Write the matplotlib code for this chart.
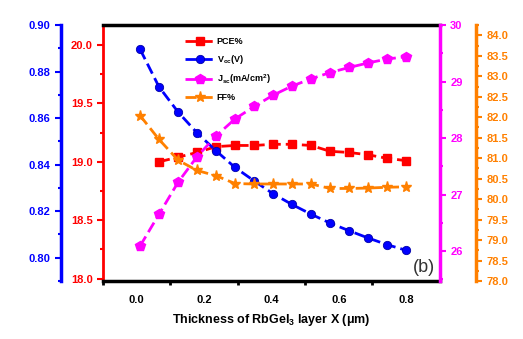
import matplotlib
matplotlib.use("Agg")
import matplotlib.pyplot as plt
from matplotlib.ticker import MultipleLocator, FixedLocator

plt.rcParams['font.family'] = ['Liberation Sans', 'DejaVu Sans']
plt.rcParams['font.weight'] = 'bold'
plt.rcParams['mathtext.fontset'] = 'custom'
plt.rcParams['mathtext.rm'] = 'Liberation Sans'
plt.rcParams['mathtext.bf'] = 'Liberation Sans:bold'
plt.rcParams['mathtext.default'] = 'bf'

# thickness of RbGeI3 layer (um)
thickness = [0.01, 0.066, 0.123, 0.179, 0.236, 0.292, 0.349, 0.405,
             0.461, 0.518, 0.574, 0.631, 0.687, 0.744, 0.8]
voc = [0.8896, 0.8735, 0.8626, 0.8537, 0.8459, 0.8388, 0.8330, 0.8275,
       0.8229, 0.8187, 0.8149, 0.8116, 0.8085, 0.8056, 0.8032]
# PCE starts at the second thickness
pce = [19.00, 19.04, 19.08, 19.13, 19.14, 19.14, 19.15, 19.15,
       19.14, 19.09, 19.08, 19.06, 19.03, 19.01]
jsc = [26.09, 26.65, 27.22, 27.67, 28.04, 28.34, 28.56, 28.76,
       28.92, 29.05, 29.16, 29.25, 29.33, 29.40, 29.44]
ff = [82.04, 81.46, 80.95, 80.70, 80.57, 80.38, 80.37, 80.37,
      80.37, 80.37, 80.26, 80.26, 80.27, 80.29, 80.30]

x_labels = ['0.0', '0.2', '0.4', '0.6', '0.8']

c_red = '#FF0000'
c_blue = '#0000FF'
c_mag = '#FF00FF'
c_orange = '#FF8000'

fig = plt.figure(figsize=(5.23, 3.39), dpi=100)
ax = fig.add_axes([0.197, 0.171, 0.644, 0.755])

ax_voc = ax.twinx()
ax_jsc = ax.twinx()
ax_ff = ax.twinx()

lw = 2.0
ms = 6
dash = (0, (4, 1.8))

l_pce, = ax.plot(thickness[1:], pce, color=c_red, ls=dash, lw=lw,
                 marker='s', ms=ms, label='PCE%')
l_voc, = ax_voc.plot(thickness, voc, color=c_blue, ls=dash, lw=lw,
                     marker='o', ms=ms, mec='#0000AA', mew=0.6, label='V$_{oc}$(V)')
l_jsc, = ax_jsc.plot(thickness, jsc, color=c_mag, ls=dash, lw=lw,
                     marker='p', ms=ms + 1, label='J$_{sc}$(mA/cm$^2$)')
l_ff, = ax_ff.plot(thickness, ff, color=c_orange, ls=dash, lw=lw,
                   marker='*', ms=ms + 2, label='FF%')

# x axis
ax.set_xlim(-0.1, 0.9)
ax.xaxis.set_major_locator(FixedLocator([-0.1, 0.1, 0.3, 0.5, 0.7]))
ax.xaxis.set_major_formatter(plt.NullFormatter())
ax.xaxis.set_minor_locator(FixedLocator([0.0, 0.2, 0.4, 0.6, 0.8]))
ax.set_xticklabels(x_labels, minor=True)
ax.tick_params(axis='x', which='major', direction='out', length=3, width=2)
ax.tick_params(axis='x', which='minor', length=0, pad=10, labelsize=8)
ax.set_xlabel('Thickness of RbGeI$_3$ layer X (μm)', fontsize=9,
              fontweight='bold', labelpad=5)

# PCE (red, left)
ax.set_ylim(17.98, 20.17)
ax.yaxis.set_major_locator(MultipleLocator(0.5))
ax.yaxis.set_minor_locator(MultipleLocator(0.25))
ax.tick_params(axis='y', which='both', colors=c_red, direction='out',
               width=1.5, labelsize=8)
ax.tick_params(axis='y', which='major', length=4)
ax.tick_params(axis='y', which='minor', length=2.5)
ax.yaxis.set_major_formatter(plt.FormatStrFormatter('%.1f'))

# Voc (blue, outer left)
ax_voc.set_ylim(0.79, 0.90)
ax_voc.yaxis.set_ticks_position('left')
ax_voc.yaxis.set_label_position('left')
ax_voc.spines['left'].set_visible(True)
ax_voc.spines['left'].set_position(('axes', -0.125))
ax_voc.yaxis.set_major_locator(MultipleLocator(0.02))
ax_voc.yaxis.set_minor_locator(MultipleLocator(0.01))
ax_voc.yaxis.set_major_formatter(plt.FormatStrFormatter('%.2f'))
ax_voc.tick_params(axis='y', which='both', colors=c_blue, direction='out',
                   width=1.5, labelsize=8)
ax_voc.tick_params(axis='y', which='major', length=4)
ax_voc.tick_params(axis='y', which='minor', length=2.5)

# Jsc (magenta, right)
ax_jsc.set_ylim(25.47, 30)
ax_jsc.yaxis.set_major_locator(MultipleLocator(1))
ax_jsc.yaxis.set_minor_locator(MultipleLocator(0.5))
ax_jsc.tick_params(axis='y', which='both', colors=c_mag, direction='out',
                   width=1.5, labelsize=8)
ax_jsc.tick_params(axis='y', which='major', length=4)
ax_jsc.tick_params(axis='y', which='minor', length=2.5)

# FF (orange, outer right)
ax_ff.set_ylim(78.0, 84.25)
ax_ff.spines['right'].set_position(('axes', 1.107))
ax_ff.yaxis.set_major_locator(MultipleLocator(0.5))
ax_ff.yaxis.set_minor_locator(MultipleLocator(0.25))
ax_ff.yaxis.set_major_formatter(plt.FormatStrFormatter('%.1f'))
ax_ff.tick_params(axis='y', which='both', colors=c_orange, direction='out',
                  width=1.5, labelsize=8)
ax_ff.tick_params(axis='y', which='major', length=4)
ax_ff.tick_params(axis='y', which='minor', length=2.5)

# spines
for a in (ax, ax_voc, ax_jsc, ax_ff):
    for s in a.spines.values():
        s.set_visible(False)
ax.spines['left'].set_visible(True)
ax.spines['left'].set_color(c_red)
ax.spines['left'].set_linewidth(2)
ax.spines['bottom'].set_visible(True)
ax.spines['bottom'].set_linewidth(2.5)
ax.spines['top'].set_visible(True)
ax.spines['top'].set_linewidth(2.5)
ax_voc.spines['left'].set_visible(True)
ax_voc.spines['left'].set_color(c_blue)
ax_voc.spines['left'].set_linewidth(2.5)
ax_jsc.spines['right'].set_visible(True)
ax_jsc.spines['right'].set_color(c_mag)
ax_jsc.spines['right'].set_linewidth(2.5)
ax_ff.spines['right'].set_visible(True)
ax_ff.spines['right'].set_color(c_orange)
ax_ff.spines['right'].set_linewidth(2.5)

for a in (ax, ax_voc, ax_jsc, ax_ff):
    for t in a.get_yticklabels():
        t.set_fontweight('bold')

leg = ax_ff.legend(handles=[l_pce, l_voc, l_jsc, l_ff], loc='upper left',
                   bbox_to_anchor=(0.22, 0.985), frameon=False,
                   handlelength=3.2, labelspacing=0.75, handletextpad=0.3,
                   prop={'weight': 'bold', 'size': 6.5})

ax_ff.text(0.985, 0.02, '(b)', transform=ax.transAxes, ha='right', va='bottom',
           fontsize=13, fontweight='normal', color='#333333')

fig.savefig('out.png', dpi=100)
